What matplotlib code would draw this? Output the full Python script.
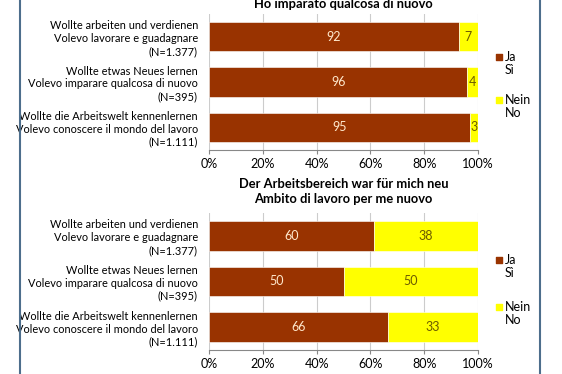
import numpy as np
import matplotlib
matplotlib.use("Agg")
import matplotlib.pyplot as plt
from matplotlib.lines import Line2D
from matplotlib.transforms import ScaledTranslation

plt.rcParams["font.family"] = ["Lato", "DejaVu Sans"]

labels = [
    "Wollte arbeiten und verdienen\nVolevo lavorare e guadagnare\n(N=1.377)",
    "Wollte etwas Neues lernen\nVolevo imparare qualcosa di nuovo\n(N=395)",
    "Wollte die Arbeitswelt kennenlernen\nVolevo conoscere il mondo del lavoro\n(N=1.111)",
]

title_top = "Ho imparato qualcosa di nuovo"
title_bottom = "Der Arbeitsbereich war für mich neu\nAmbito di lavoro per me nuovo"

ja_top = [92, 96, 95]
nein_top = [7, 4, 3]
ja_bottom = [60, 50, 66]
nein_bottom = [38, 50, 33]

legend_labels = ["Ja\nSì", "Nein\nNo"]

brown = "#993300"
yellow = "#FFFF00"

fig = plt.figure(figsize=(5.62, 3.74), dpi=100)
fig.patch.set_facecolor("white")

ax1 = fig.add_axes([0.372, 0.599, 0.4785, 0.3636])
ax2 = fig.add_axes([0.372, 0.0642, 0.4785, 0.3663])


def draw(ax, ja, nein, title, leg_y, tpad):
    ja = np.array(ja, dtype=float)
    nein = np.array(nein, dtype=float)
    tot = ja + nein
    ja_p = ja / tot * 100
    nein_p = nein / tot * 100
    y = np.arange(len(labels))
    ax.barh(y, ja_p, height=0.65, color=brown, edgecolor="white", linewidth=0.4, zorder=3)
    ax.barh(y, nein_p, left=ja_p, height=0.65, color=yellow, edgecolor="white", linewidth=0.4, zorder=3)
    for i in range(len(y)):
        ax.text(ja_p[i] / 2, y[i], str(int(ja[i])), ha="center", va="center",
                color="#FFE8CC", fontsize=9, zorder=4)
        ax.text(ja_p[i] + nein_p[i] / 2, y[i], str(int(nein[i])), ha="center", va="center",
                color="#6B5A00", fontsize=9, zorder=4)
    ax.set_xlim(0, 100)
    ax.set_ylim(2.5, -0.5)
    ax.set_yticks(y)
    ax.set_yticklabels(labels, fontsize=7.9, linespacing=1.2)
    for lbl in ax.get_yticklabels():
        lbl.set_transform(lbl.get_transform() + ScaledTranslation(0, 3.5 / 72, fig.dpi_scale_trans))
    ax.tick_params(axis="y", length=0, pad=8)
    ax.set_xticks(np.arange(0, 101, 20))
    ax.set_xticklabels([f"{v}%" for v in range(0, 101, 20)], fontsize=9)
    ax.tick_params(axis="x", length=3, color="#888888", pad=3)
    ax.grid(axis="x", color="#cccccc", linewidth=0.8, zorder=0)
    for s in ["top", "right", "left"]:
        ax.spines[s].set_visible(False)
    ax.spines["bottom"].set_color("#888888")
    ax.set_title(title, fontsize=9.3, fontweight="bold", pad=tpad, linespacing=1.35)
    # legend: square marker next to the first line of each label
    for lab, col, ly in zip(legend_labels, [brown, yellow], leg_y):
        ax.scatter([1.078], [ly], s=16, marker="s", color=col, transform=ax.transAxes,
                   clip_on=False, zorder=5)
        ax.text(1.10, ly + 0.045, lab, transform=ax.transAxes, ha="left", va="top",
                fontsize=9, linespacing=1.15)


draw(ax1, ja_top, nein_top, title_top, [0.684, 0.368], 4.5)
draw(ax2, ja_bottom, nein_bottom, title_bottom, [0.657, 0.314], 7)

fig.add_artist(Line2D([0.036, 0.036], [0, 1], transform=fig.transFigure, color="#4d6e8c", linewidth=1.5))
fig.add_artist(Line2D([0.961, 0.961], [0, 1], transform=fig.transFigure, color="#4d6e8c", linewidth=1.5))

fig.savefig("out.png", dpi=100)
